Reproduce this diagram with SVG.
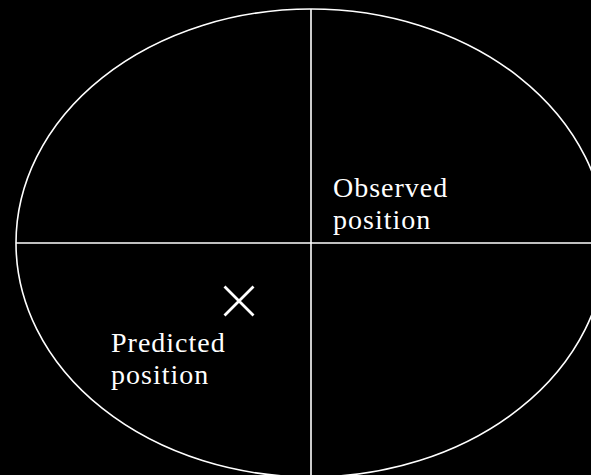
<svg xmlns="http://www.w3.org/2000/svg" width="591" height="475" viewBox="0 0 591 475">
<style>
.ln{stroke:#fff;stroke-width:1.6;fill:none}
.lbl{fill:#fff;font-family:"Liberation Serif","DejaVu Serif",serif;font-size:28px;letter-spacing:1px}
</style>
<rect x="0" y="0" width="591" height="475" fill="#000"/>
<g id="ellipse"><ellipse class="ln" cx="311" cy="243" rx="295" ry="234"/></g>
<g id="axes">
<line class="ln" x1="311" y1="9" x2="311" y2="475"/>
<line class="ln" x1="16" y1="243" x2="591" y2="243"/>
</g>
<g id="predicted-mark"><path d="M224.5 286.5 L253.5 315.5 M253.5 286.5 L224.5 315.5" stroke="#fff" stroke-width="2.8" fill="none"/></g>
<g id="observed-label"><text class="lbl" x="333" y="197">Observed</text><text class="lbl" x="333" y="229">position</text></g>
<g id="predicted-label"><text class="lbl" x="111" y="352">Predicted</text><text class="lbl" x="111" y="384">position</text></g>
</svg>
